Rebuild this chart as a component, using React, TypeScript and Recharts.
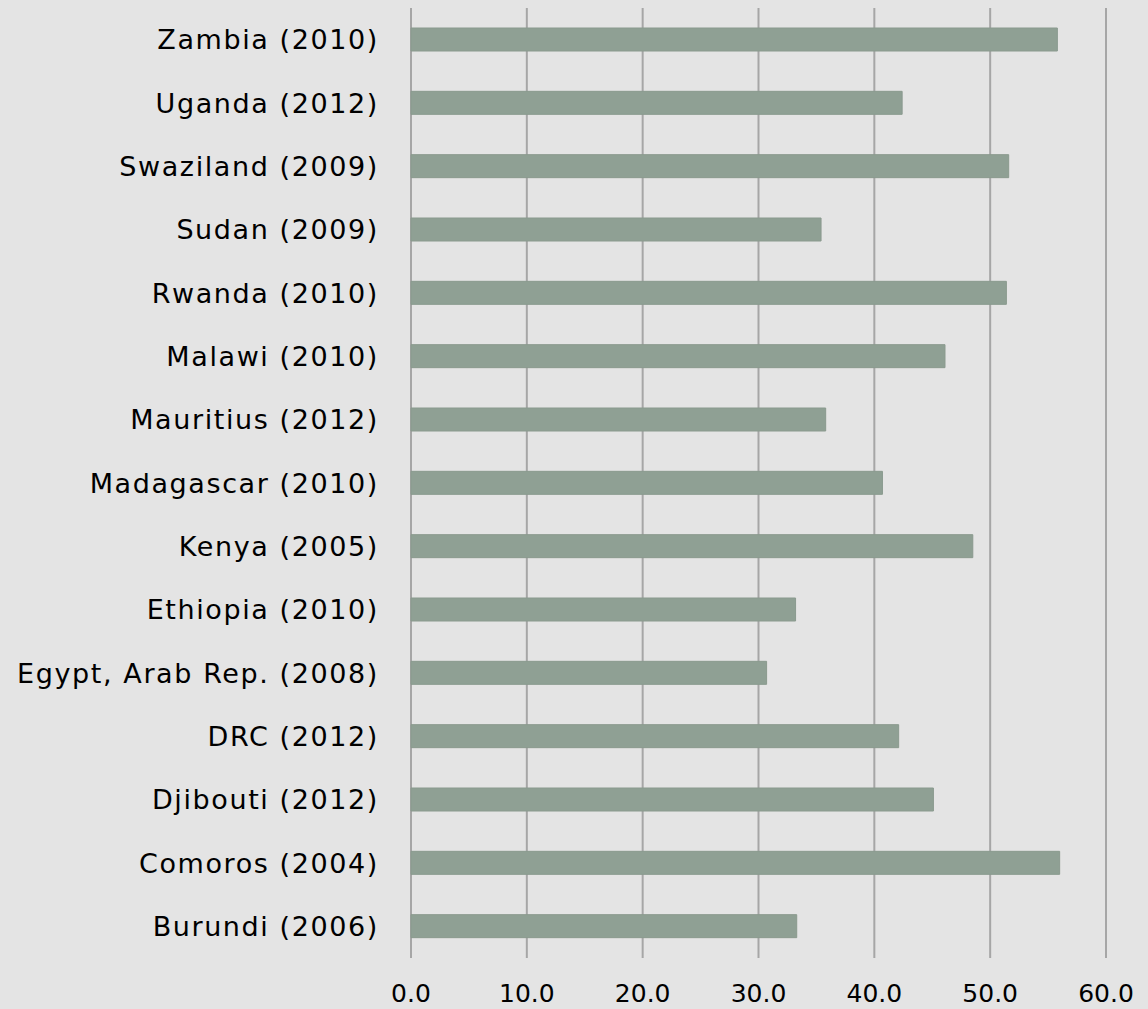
import React from "react";
import { BarChart, Bar, XAxis, YAxis, CartesianGrid } from "recharts";

const categories = [
  "Zambia (2010)",
  "Uganda (2012)",
  "Swaziland (2009)",
  "Sudan (2009)",
  "Rwanda (2010)",
  "Malawi (2010)",
  "Mauritius (2012)",
  "Madagascar (2010)",
  "Kenya (2005)",
  "Ethiopia (2010)",
  "Egypt, Arab Rep. (2008)",
  "DRC (2012)",
  "Djibouti (2012)",
  "Comoros (2004)",
  "Burundi (2006)",
];
const values = [55.8, 42.4, 51.6, 35.4, 51.4, 46.1, 35.8, 40.7, 48.5, 33.2, 30.7, 42.1, 45.1, 56.0, 33.3];
const xTicks = [0, 10, 20, 30, 40, 50, 60];

const data = categories.map((name, i) => ({ name, value: values[i] }));

export default function App() {
  return (
    <div style={{ position: "absolute", left: 0, top: 0, width: 1148, height: 1009, background: "#e4e4e4" }}>
      <BarChart
        width={1148}
        height={1009}
        data={data}
        layout="vertical"
        margin={{ top: 8, right: 42, left: 0, bottom: 0 }}
        barSize={23}
      >
        <CartesianGrid horizontal={false} vertical={true} stroke="#a6a6a6" strokeWidth={2} />
        <XAxis
          type="number"
          domain={[0, 60]}
          ticks={xTicks}
          interval={0}
          axisLine={false}
          tickLine={false}
          height={51}
          tickFormatter={(v: number) => v.toFixed(1)}
          tick={{ fill: "#000", fontSize: 25, fontFamily: "DejaVu Sans" }}
          tickMargin={20}
        />
        <YAxis
          type="category"
          dataKey="name"
          width={411}
          axisLine={false}
          tickLine={false}
          interval={0}
          tick={{ fill: "#000", fontSize: 27, fontFamily: "DejaVu Sans", letterSpacing: 1.6 }}
          tickMargin={26}
        />
        <Bar dataKey="value" fill="#8fa094" stroke="#8a9a8e" strokeWidth={1} isAnimationActive={false} />
      </BarChart>
    </div>
  );
}
